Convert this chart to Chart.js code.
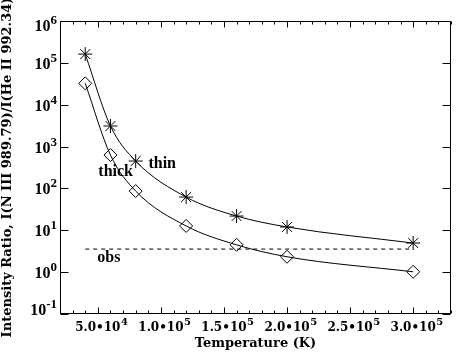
<!DOCTYPE html>
<html><head><meta charset="utf-8">
<script src="https://cdn.jsdelivr.net/npm/chart.js@4.4.0/dist/chart.umd.min.js"></script>
<style>html,body{margin:0;padding:0;background:#fff}</style>
</head><body>
<canvas id="c" width="459" height="355"></canvas>
<script>
// ---- data ----
const temperatures = [40000, 60000, 80000, 120000, 160000, 200000, 300000];
const thinRatio   = [162000, 3100, 451, 62.2, 21.9, 12.0, 4.96];
const thickRatio  = [32400, 627, 86.5, 12.7, 4.49, 2.33, 1.02];
const obsTemps    = [40000, 300000];
const obsRatio    = [3.56, 3.56];
const xMajorTicks = [50000, 100000, 150000, 200000, 250000, 300000];
const xTickLabels = [["5.0\u202210","4"],["1.0\u202210","5"],["1.5\u202210","5"],["2.0\u202210","5"],["2.5\u202210","5"],["3.0\u202210","5"]];
const yMajorTicks = [0.1, 1, 10, 100, 1000, 10000, 100000, 1000000];
const yTickLabels = [["10","-1"],["10","0"],["10","1"],["10","2"],["10","3"],["10","4"],["10","5"],["10","6"]];
const seriesNames = ["thin", "thick", "obs"];
const xTitle = "Temperature (K)";
const yTitle = "Intensity Ratio, I(N III 989.79)/I(He II 992.34)";

// text labels placed in data coordinates (style/placement, not data)
const seriesLabels = [
  {text: "thick", x: 50400, y: 246},
  {text: "thin",  x: 90100, y: 382},
  {text: "obs",   x: 49600, y: 2.17}
];

const toXY = (xs, ys) => xs.map((x, i) => ({x: x, y: ys[i]}));

const framePlugin = {
  id: 'frame',
  afterDraw(chart) {
    const ctx = chart.ctx, a = chart.chartArea;
    const xs = chart.scales.x, ys = chart.scales.y;
    ctx.save();
    ctx.strokeStyle = '#000';
    ctx.lineWidth = 1;
    const L = a.left + 0.5, R = a.right - 0.5, T = a.top + 0.5, B = a.bottom - 0.5;
    ctx.beginPath();
    ctx.rect(L, T, R - L, B - T);
    for (let v = 20000; v <= 330000; v += 10000) {
      const px = Math.round(xs.getPixelForValue(v)) + 0.5;
      const len = (v % 50000 === 0) ? 6 : 3;
      ctx.moveTo(px, B); ctx.lineTo(px, B - len);
      ctx.moveTo(px, T); ctx.lineTo(px, T + len);
    }
    yMajorTicks.forEach(v => {
      const py = Math.round(ys.getPixelForValue(v)) + 0.5;
      ctx.moveTo(L, py); ctx.lineTo(L + 8, py);
      ctx.moveTo(R, py); ctx.lineTo(R - 8, py);
    });
    ctx.stroke();

    ctx.fillStyle = '#000';
    ctx.textBaseline = 'alphabetic';
    ctx.textAlign = 'left';
    xMajorTicks.forEach((v, i) => {
      const px = xs.getPixelForValue(v);
      const [base, sup] = xTickLabels[i];
      ctx.font = 'bold 12px "DejaVu Serif"';
      const wb = ctx.measureText(base).width;
      const bx = px - wb / 2;
      ctx.fillText(base, bx, a.bottom + 17);
      ctx.font = 'bold 10px "DejaVu Serif"';
      ctx.fillText(sup, bx + wb + 0.5, a.bottom + 11);
    });
    yMajorTicks.forEach((v, i) => {
      const py = ys.getPixelForValue(v);
      const [base, sup] = yTickLabels[i];
      ctx.font = 'bold 13px "Liberation Serif"';
      const ws = ctx.measureText(sup).width;
      ctx.font = 'bold 16px "Liberation Serif"';
      const wb = ctx.measureText(base).width;
      const xEnd = a.left - 3;
      let bl = py + 6;
      bl = Math.max(a.top + 10, Math.min(a.bottom + 1, bl));
      ctx.fillText(base, xEnd - ws - wb, bl);
      ctx.font = 'bold 13px "Liberation Serif"';
      ctx.fillText(sup, xEnd - ws, bl - 7);
    });
    ctx.font = 'bold 16px "Liberation Serif"';
    ctx.textBaseline = 'middle';
    seriesLabels.forEach(l => {
      ctx.fillText(l.text, xs.getPixelForValue(l.x), ys.getPixelForValue(l.y));
    });
    ctx.restore();
  }
};

new Chart(document.getElementById('c'), {
  type: 'line',
  data: {
    datasets: [
      {
        label: seriesNames[0], data: toXY(temperatures, thinRatio),
        borderColor: '#000', borderWidth: 1, backgroundColor: 'rgba(0,0,0,0)',
        pointStyle: 'star', pointRadius: 7, pointBorderWidth: 1, pointBorderColor: '#000',
        cubicInterpolationMode: 'monotone', fill: false
      },
      {
        label: seriesNames[1], data: toXY(temperatures, thickRatio),
        borderColor: '#000', borderWidth: 1, backgroundColor: 'rgba(0,0,0,0)',
        pointStyle: 'rectRot', pointRadius: 6.5, pointBorderWidth: 1, pointBorderColor: '#000',
        pointBackgroundColor: 'rgba(0,0,0,0)',
        cubicInterpolationMode: 'monotone', fill: false
      },
      {
        label: seriesNames[2], data: toXY(obsTemps, obsRatio),
        borderColor: '#000', borderWidth: 1, borderDash: [4, 4],
        pointRadius: 0, fill: false
      }
    ]
  },
  options: {
    responsive: false,
    animation: false,
    events: [],
    layout: {padding: {top: 21, right: 1, left: 0, bottom: 0}},
    plugins: {legend: {display: false}, tooltip: {enabled: false}},
    scales: {
      x: {
        type: 'linear', min: 20000, max: 330000,
        grid: {display: false}, border: {display: false},
        ticks: {display: false},
        afterBuildTicks: s => { s.ticks = xMajorTicks.map(v => ({value: v})); },
        afterFit: s => { s.height = 41; },
        title: {display: true, text: xTitle, color: '#000',
          font: {family: 'DejaVu Serif', size: 13, weight: 'bold'}, padding: {top: 0, bottom: 4}}
      },
      y: {
        type: 'logarithmic', min: 0.1, max: 1000000,
        grid: {display: false}, border: {display: false},
        ticks: {display: false},
        afterBuildTicks: s => { s.ticks = yMajorTicks.map(v => ({value: v})); },
        afterFit: s => { s.width = 60; },
        title: {display: true, text: yTitle, color: '#000',
          font: {family: 'DejaVu Serif', size: 13, weight: 'bold'}, padding: {top: 0, bottom: 0}}
      }
    }
  },
  plugins: [framePlugin]
});
</script>
</body></html>
